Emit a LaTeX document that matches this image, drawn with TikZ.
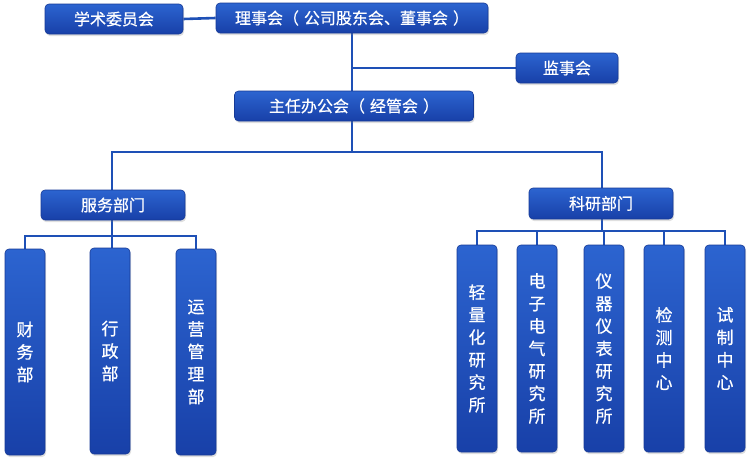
\documentclass[tikz,border=0pt]{standalone}
\usepackage{fontspec}
\setmainfont[FakeBold=0.6]{Noto Sans CJK SC}
\usetikzlibrary{shadows,backgrounds}
\definecolor{bxtop}{RGB}{44,100,208}
\definecolor{bxmid}{RGB}{28,76,182}
\definecolor{bxbot}{RGB}{24,64,168}
\definecolor{bxedge}{RGB}{22,58,150}
\definecolor{lnblue}{RGB}{30,80,182}
\tikzset{
  box/.style={rounded corners=4pt, top color=bxtop, middle color=bxmid, bottom color=bxbot,
    draw=bxedge, line width=0.6pt, text=white, inner sep=0pt,
    drop shadow={shadow xshift=1pt, shadow yshift=-2pt, opacity=0.25},
    font={\fontsize{16}{19}\selectfont}},
  hbox/.style={box, minimum height=30pt},
  vbox/.style={box, minimum width=40pt, align=center,
    font={\fontsize{17}{22.5}\selectfont}},
  conn/.style={draw=lnblue, line width=2.6pt}
}
\begin{document}
\begin{tikzpicture}[x=1pt,y=-1pt]
\useasboundingbox (0,0) rectangle (750,463);
% top level
\node[hbox, minimum width=138pt] (xs) at (114,19) {学术委员会};
\node[hbox, minimum width=272pt] (lsh) at (352,18) {理事会（\hspace{5pt}公司股东会、董事会\hspace{5pt}）};
\node[hbox, minimum width=102pt] (jsh) at (567,68) {监事会};
\node[hbox, minimum width=239pt] (zr) at (354,106) {主任办公会（\hspace{5pt}经管会\hspace{5pt}）};
\node[hbox, minimum width=144pt] (fw) at (113,205) {服务部门};
\node[hbox, minimum width=144pt, minimum height=31pt] (ky) at (601,203.5) {科研部门};
% service children
\node[vbox, minimum height=206pt] (cw) at (25,352) {财\\务\\部};
\node[vbox, minimum height=206pt] (xz) at (110,351) {行\\政\\部};
\node[vbox, minimum height=206pt] (yy) at (196,352) {运\\营\\管\\理\\部};
% research children
\node[vbox, minimum height=207pt] (qlh) at (477,348.5) {轻\\量\\化\\研\\究\\所};
\node[vbox, minimum height=207pt] (dz) at (537,348.5) {电\\子\\电\\气\\研\\究\\所};
\node[vbox, minimum height=207pt] (yq) at (604,348.5) {仪\\器\\仪\\表\\研\\究\\所};
\node[vbox, minimum height=207pt] (jc) at (664,348.5) {检\\测\\中\\心};
\node[vbox, minimum height=207pt] (sz) at (725,348.5) {\raisebox{10pt}{\parbox{1em}{\centering 试\\制\\中\\心}}};
% junction coordinates
\coordinate (m) at (352,152);
\coordinate (s) at (112,236);
\coordinate (r) at (602,231);
% connectors
\begin{scope}[on background layer]
\path[conn] (xs.east) -- (lsh.west);
\path[conn] (lsh.south -| m) -- (zr.north -| m);
\path[conn] (jsh.west) -- (jsh.west -| m);
\path[conn] (zr.south -| m) -- (m);
\path[conn] (fw.north -| s) |- (m) -| (ky.north -| r);
\path[conn] (fw.south -| s) -- (s);
\path[conn] (cw.north) |- (s) -| (yy.north);
\path[conn] (xz.north -| s) -- (s);
\path[conn] (ky.south -| r) -- (r);
\path[conn] (qlh.north) |- (r) -| (sz.north);
\path[conn] (dz.north) -- (dz.north |- r);
\path[conn] (yq.north) -- (yq.north |- r);
\path[conn] (jc.north) -- (jc.north |- r);
\end{scope}
\end{tikzpicture}
\end{document}
